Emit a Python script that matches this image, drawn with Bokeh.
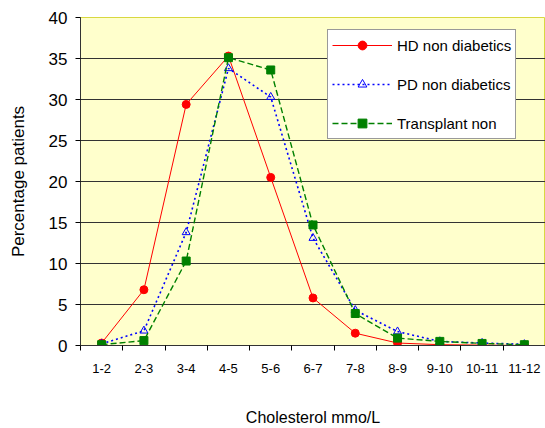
from bokeh.embed import file_html
from bokeh.resources import INLINE
from bokeh.models import Range1d, FixedTicker, Legend
from bokeh.plotting import figure

categories = ["1-2", "2-3", "3-4", "4-5", "5-6", "6-7", "7-8", "8-9", "9-10", "10-11", "11-12"]
hd = [0.3, 6.8, 29.4, 35.3, 20.5, 5.8, 1.5, 0.3, 0.1, 0.05, 0.0]
pd_ = [0.2, 1.8, 13.8, 33.8, 30.3, 13.1, 4.3, 1.7, 0.5, 0.3, 0.15]
transplant = [0.1, 0.6, 10.3, 35.1, 33.6, 14.7, 3.9, 0.9, 0.5, 0.25, 0.1]
y_ticks = [0, 5, 10, 15, 20, 25, 30, 35, 40]

xs = list(range(1, len(categories) + 1))
FONT = "Liberation Sans"

p = figure(width=545, height=428, output_backend="svg", toolbar_location=None,
           x_range=Range1d(0.5, len(categories) + 0.5), y_range=Range1d(0, 40),
           min_border_left=80, min_border_top=17, min_border_right=0, min_border_bottom=82)
p.background_fill_color = "#FFFFCC"
p.border_fill_color = "white"
p.outline_line_color = "#D8D840"

p.xgrid.grid_line_color = None
p.ygrid.grid_line_color = "#333333"
p.ygrid.grid_line_width = 1

# x axis: labels at category centres, tick marks between categories
p.xaxis.ticker = FixedTicker(ticks=xs, minor_ticks=[x - 0.5 for x in xs] + [xs[-1] + 0.5])
p.xaxis.major_label_overrides = {x: c for x, c in zip(xs, categories)}
p.xaxis.major_tick_out = 0
p.xaxis.major_tick_in = 0
p.xaxis.minor_tick_out = 5
p.xaxis.minor_tick_in = 0
p.xaxis.minor_tick_line_color = "black"
p.xaxis.major_label_standoff = 13
p.xaxis.axis_label = "Cholesterol mmo/L"
p.xaxis.axis_label_standoff = 33
p.xaxis.axis_label_text_font_size = "16px"
p.xaxis.major_label_text_font_size = "13px"

p.yaxis.ticker = FixedTicker(ticks=y_ticks, minor_ticks=[])
p.yaxis.major_tick_out = 5
p.yaxis.major_tick_in = 0
p.yaxis.major_label_standoff = 8
p.yaxis.major_label_text_font_size = "17px"
p.yaxis.axis_label = "Percentage patients"
p.yaxis.axis_label_standoff = 18
p.yaxis.axis_label_text_font_size = "17px"

for ax in (p.xaxis, p.yaxis):
    ax.axis_line_color = "#333333"
    ax.major_tick_line_color = "black"
    ax.major_label_text_font = FONT
    ax.major_label_text_color = "black"
    ax.axis_label_text_font = FONT
    ax.axis_label_text_font_style = "normal"
    ax.axis_label_text_color = "black"

r1 = p.line(xs, hd, line_color="#FF0000", line_width=1)
r1m = p.scatter(xs, hd, marker="circle", size=8, fill_color="#FF0000", line_color="#FF0000")
r2 = p.line(xs, pd_, line_color="#0000FF", line_width=1.6, line_dash="2 3")
r2m = p.scatter(xs, pd_, marker="triangle", size=8, fill_color="white", fill_alpha=0,
                line_color="#0000FF", line_width=1)
r3 = p.line(xs, transplant, line_color="#008000", line_width=1.4, line_dash="6 3")
r3m = p.scatter(xs, transplant, marker="square", size=8, fill_color="#008000", line_color="#008000")

legend = Legend(items=[("HD non diabetics", [r1, r1m]),
                       ("PD non diabetics", [r2, r2m]),
                       ("Transplant non", [r3, r3m])],
                location=(247, 206))
legend.label_text_font = FONT
legend.label_text_font_size = "15px"
legend.label_text_color = "black"
legend.padding = 4
legend.spacing = 17
legend.label_height = 22
legend.glyph_height = 22
legend.glyph_width = 60
legend.label_standoff = 5
legend.border_line_color = "#333333"
legend.border_line_width = 1
legend.background_fill_color = "white"
legend.background_fill_alpha = 1
legend.margin = 0
p.add_layout(legend, "center")

open("out.html", "w").write(file_html(p, INLINE))
